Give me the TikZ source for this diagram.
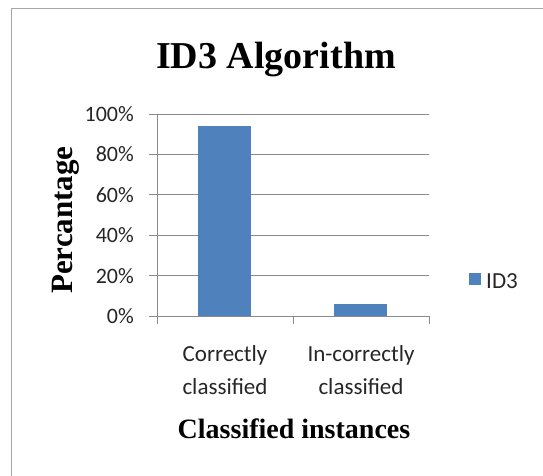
\documentclass[tikz,border=0pt]{standalone}
\usepackage{fontspec}
\setmainfont{Liberation Serif}
\newfontfamily\calfont{Carlito}
\definecolor{barblue}{HTML}{4F81BD}
\definecolor{gridgray}{HTML}{8A8A8A}
\definecolor{framegray}{HTML}{A6A6A6}
\definecolor{txtgray}{HTML}{262626}
\tikzset{
  grid line/.style={draw=gridgray, line width=1pt},
  bar/.style={fill=barblue, draw=none},
  ticklabel/.style={anchor=east, inner sep=0pt, text=txtgray, font=\calfont\fontsize{22}{24}\selectfont},
  catlabel/.style={anchor=base, inner sep=0pt, text=txtgray, font=\calfont\fontsize{23}{26}\selectfont},
  axistitle/.style={inner sep=0pt, font=\bfseries\fontsize{28}{32}\selectfont},
}
\begin{document}
\begin{tikzpicture}[x=1pt,y=-1pt]
\useasboundingbox (0,0) rectangle (543,475);
\fill[white] (0,0) rectangle (543,475);
% frame (cropped at right and bottom)
\coordinate (fbl) at (11.5,476);
\coordinate (ftl) at (11.5,8.5);
\coordinate (ftr) at (544,8.5);
\draw[framegray, line width=1.6pt] (fbl) -- (ftl) -- (ftr);
% title
\node[anchor=base, inner sep=0pt, font=\bfseries\fontsize{38}{40}\selectfont] (title) at (276,68) {ID3 Algorithm};
% gridlines and tick labels
\foreach \p [count=\i from 0] in {0,20,40,60,80,100}{
  \coordinate (gl\i) at (149,{316-40.4*\i});
  \coordinate (gr\i) at (429,{316-40.4*\i});
  \draw[grid line] (gl\i) -- (gr\i);
  \node[ticklabel] (tl\i) at (134,{316-40.4*\i}) {\p\%};
}
% bars
\node[bar, minimum width=53pt, minimum height=190pt, inner sep=0pt] (bar1) at (224.5,221) {};
\node[bar, minimum width=53pt, minimum height=12pt, inner sep=0pt] (bar2) at (360.5,310) {};
% axes
\coordinate (ya) at (157,114);
\coordinate (yb) at (157,316);
\draw[grid line] (ya) -- (yb);
\foreach \x [count=\j] in {157,293,429}{
  \coordinate (ct\j a) at (\x,316);
  \coordinate (ct\j b) at (\x,324);
  \draw[grid line] (ct\j a) -- (ct\j b);
}
% category labels
\node[catlabel] (c1a) at (225,361) {Correctly};
\node[catlabel] (c1b) at (225,394) {classified};
\node[catlabel] (c2a) at (361,361) {In-correctly};
\node[catlabel] (c2b) at (361,394) {classified};
% axis titles
\node[axistitle, anchor=base] (xtitle) at (294,438) {Classified instances};
\node[axistitle, anchor=base, rotate=90, font=\bfseries\fontsize{31}{34}\selectfont] (ytitle) at (72,220) {Percantage};
% legend
\node[fill=barblue, minimum size=12pt, inner sep=0pt] (legsq) at (475,279) {};
\node[anchor=west, inner sep=0pt, text=txtgray, font=\calfont\fontsize{23}{26}\selectfont] (legtxt) at (486,281) {ID3};
\end{tikzpicture}
\end{document}
